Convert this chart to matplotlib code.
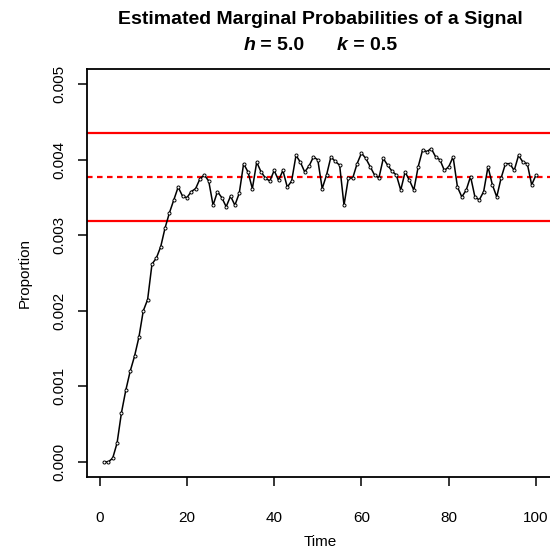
import numpy as np
import matplotlib.pyplot as plt
from matplotlib.offsetbox import TextArea, HPacker, AnchoredOffsetbox

# estimated marginal probability at each time step
time = np.arange(1, 101)
proportion = [
    0.00000, 0.00000, 0.00005, 0.00025, 0.00065, 0.00095, 0.00120, 0.00140, 0.00165, 0.00200,
    0.00215, 0.00262, 0.00270, 0.00285, 0.00310, 0.00330, 0.00347, 0.00364, 0.00352, 0.00350,
    0.00358, 0.00362, 0.00375, 0.00380, 0.00372, 0.00340, 0.00358, 0.00350, 0.00338, 0.00352,
    0.00340, 0.00356, 0.00395, 0.00384, 0.00362, 0.00397, 0.00384, 0.00376, 0.00372, 0.00386,
    0.00373, 0.00386, 0.00364, 0.00372, 0.00406, 0.00397, 0.00384, 0.00392, 0.00404, 0.00400,
    0.00362, 0.00380, 0.00404, 0.00398, 0.00393, 0.00340, 0.00376, 0.00376, 0.00395, 0.00409,
    0.00402, 0.00391, 0.00380, 0.00376, 0.00402, 0.00393, 0.00385, 0.00380, 0.00360, 0.00384,
    0.00373, 0.00360, 0.00391, 0.00413, 0.00411, 0.00415, 0.00404, 0.00400, 0.00386, 0.00391,
    0.00404, 0.00364, 0.00351, 0.00360, 0.00378, 0.00351, 0.00347, 0.00358, 0.00391, 0.00367,
    0.00351, 0.00376, 0.00395, 0.00395, 0.00386, 0.00406, 0.00397, 0.00395, 0.00367, 0.00380,
]

# steady-state level and its band
centre = 0.00377
upper = 0.004356
lower = 0.003187

h_value = "5.0"
k_value = "0.5"

x_ticks = [0, 20, 40, 60, 80, 100]
y_ticks = [0.000, 0.001, 0.002, 0.003, 0.004, 0.005]

W, H = 550, 554
fig = plt.figure(figsize=(W / 100, H / 100), dpi=100)
plt.rcParams['font.family'] = ['Liberation Sans', 'DejaVu Sans']

# R-style plot region (the right edge runs just past the figure)
left, right, top, bottom = 86.7, 553.3, 69.3, 477.0
ax = fig.add_axes([left / W, 1 - bottom / H, (right - left) / W, (bottom - top) / H])

ax.axhline(upper, color='red', lw=1.6)
ax.axhline(lower, color='red', lw=1.6)
ax.axhline(centre, color='red', lw=1.6, ls=(0, (2.5, 2)))

ax.plot(time, proportion, color='black', lw=1.1, marker='o', ms=2.2,
        mfc='white', mec='black', mew=0.7)

ax.set_xlim(1 - 0.04 * 99, 100 + 0.04 * 99)
ax.set_ylim(-0.0002, 0.0052)
ax.set_xticks(x_ticks)
ax.set_yticks(y_ticks)
ax.set_xticklabels([str(v) for v in x_ticks])
ax.set_yticklabels(['%.3f' % v for v in y_ticks], rotation=90, va='center')
ax.tick_params(length=6.5, width=1.1, labelsize=11)
ax.tick_params(axis='x', pad=18)
ax.tick_params(axis='y', pad=8)
for s in ax.spines.values():
    s.set_linewidth(1.3)

ax.set_xlabel('Time', fontsize=11, labelpad=7)
ax.set_ylabel('Proportion', fontsize=11, labelpad=15)

# two-line title, h and k in bold italic
mid = (left + right) / 2 / W
fig.text(mid, 1 - 19 / H, 'Estimated Marginal Probabilities of a Signal',
         ha='center', va='center', fontsize=14, fontweight='bold')
parts = [('h', 'italic'), (' = ' + h_value + '      ', 'normal'),
         ('k', 'italic'), (' = ' + k_value, 'normal')]
boxes = [TextArea(t, textprops=dict(fontsize=14, fontweight='bold', fontstyle=st))
         for t, st in parts]
row = HPacker(children=boxes, align='baseline', pad=0, sep=0)
anchored = AnchoredOffsetbox(loc='center', child=row, frameon=False, pad=0, borderpad=0,
                             bbox_to_anchor=(mid, 1 - 45 / H),
                             bbox_transform=fig.transFigure)
fig.add_artist(anchored)

fig.savefig('out.png', dpi=100)
